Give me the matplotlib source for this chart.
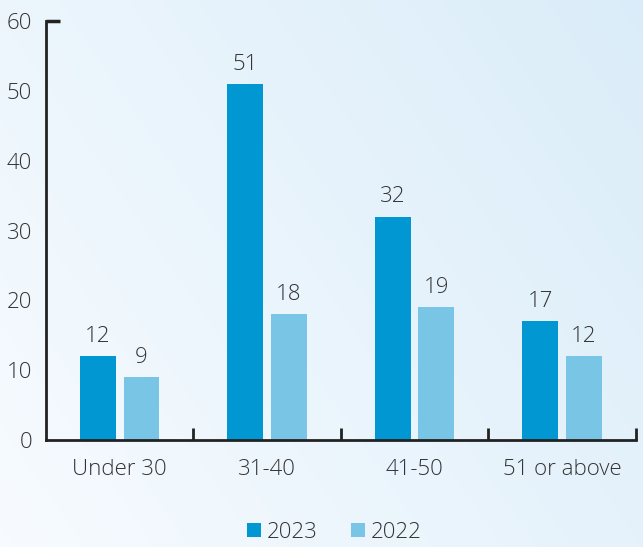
import numpy as np
import matplotlib
matplotlib.use("Agg")
import matplotlib.pyplot as plt

# age group chart, 2023 vs 2022
categories = ["Under 30", "31-40", "41-50", "51 or above"]
vals_2023 = [12, 51, 32, 17]
vals_2022 = [9, 18, 19, 12]
yticks = [0, 10, 20, 30, 40, 50, 60]

c_2023 = "#0097D2"
c_2022 = "#79C5E5"
txt = "#333333"
fs = 16

plt.rcParams["font.family"] = ["Open Sans", "DejaVu Sans"]
plt.rcParams["font.weight"] = "light"

fig = plt.figure(figsize=(6.43, 5.47), dpi=100)

# soft light-blue background
bg = fig.add_axes([0, 0, 1, 1], zorder=-10)
gx = np.linspace(0, 1, 200)
gy = np.linspace(0, 1, 200)
X, Y = np.meshgrid(gx, gy)
t = np.clip(0.6 * X + 0.35 * Y, 0, 1)
left = np.array([0.97, 0.985, 1.0])
right = np.array([0.85, 0.925, 0.975])
img = left[None, None, :] * (1 - t[..., None]) + right[None, None, :] * t[..., None]
bg.imshow(img, aspect="auto", extent=[0, 1, 0, 1], origin="lower")
bg.axis("off")

ax = fig.add_axes([0.0715, 0.1956, 0.917, 0.766])
ax.patch.set_alpha(0)

x = np.arange(len(categories)) + 0.5
w = 0.243
b1 = ax.bar(x - 0.148, vals_2023, w, color=c_2023, label="2023")
b2 = ax.bar(x + 0.148, vals_2022, w, color=c_2022, label="2022")

for bars, vals in ((b1, vals_2023), (b2, vals_2022)):
    for r, v in zip(bars, vals):
        ax.text(r.get_x() + r.get_width() / 2, v + 1.3, str(v),
                ha="center", va="bottom", fontsize=fs, color=txt)

ax.set_xlim(0, len(categories))
ax.set_ylim(0, 60)

ax.set_xticks(np.arange(1, len(categories) + 1))
ax.set_xticklabels([])
ax.set_xticks(x, minor=True)
ax.set_xticklabels(categories, minor=True, fontsize=fs, color=txt)
ax.tick_params(axis="x", which="major", direction="in", length=9, width=2, color="#222222")
ax.tick_params(axis="x", which="minor", length=0, pad=14)

ax.yaxis.remove_overlapping_locs = False
ax.set_yticks(yticks)
ax.set_yticklabels([str(v) for v in yticks], fontsize=fs, color=txt)
ax.tick_params(axis="y", which="major", length=0, pad=10)
ax.set_yticks([60], minor=True)
ax.tick_params(axis="y", which="minor", direction="in", length=10, width=2.5, color="#222222")

for s in ("top", "right"):
    ax.spines[s].set_visible(False)
for s in ("left", "bottom"):
    ax.spines[s].set_linewidth(2)
    ax.spines[s].set_color("#222222")

leg = fig.legend(handles=[b1, b2], labels=["2023", "2022"], loc="center",
                 bbox_to_anchor=(0.52, 0.027), ncol=2, frameon=False, fontsize=fs,
                 handlelength=0.65, handleheight=0.65, handletextpad=0.25, columnspacing=1.5)
for t_ in leg.get_texts():
    t_.set_color(txt)

fig.savefig("out.png", dpi=100)
